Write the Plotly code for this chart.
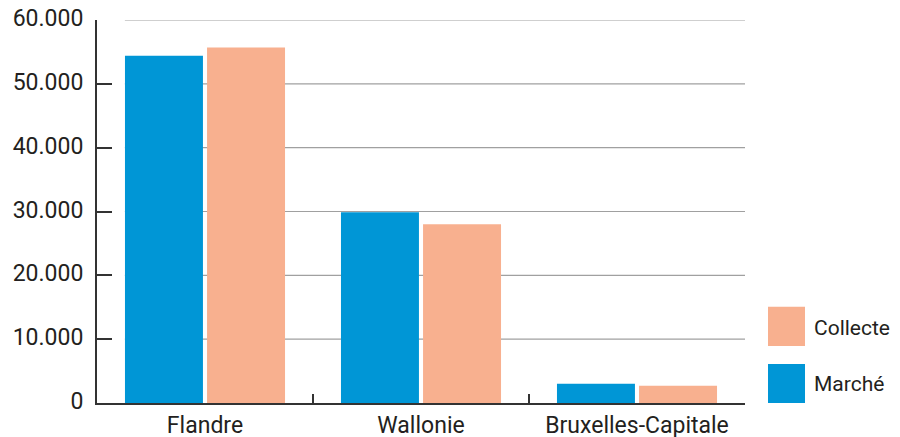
import plotly.graph_objects as go

regions = ["Flandre", "Wallonie", "Bruxelles-Capitale"]
marche = [54400, 29900, 3000]
collecte = [55700, 28000, 2700]
series_names = ["Marché", "Collecte"]
y_ticks = [0, 10000, 20000, 30000, 40000, 50000, 60000]
y_tick_labels = ["0", "10.000", "20.000", "30.000", "40.000", "50.000", "60.000"]

BLUE = "#0096D6"
SALMON = "#F8B08F"
FONT = "Roboto"
TXT = "#231f20"

fig = go.Figure()
fig.add_trace(go.Bar(x=regions, y=marche, name=series_names[0], marker_color=BLUE,
                     marker_line_width=0, showlegend=False))
fig.add_trace(go.Bar(x=regions, y=collecte, name=series_names[1], marker_color=SALMON,
                     marker_line_width=0, showlegend=False))

# gridlines (start a little right of the axis, as in the reference)
for v in y_ticks[1:]:
    fig.add_shape(type="line", xref="paper", yref="y", x0=0.043, x1=1, y0=v, y1=v,
                  line=dict(color="#a0a0a0", width=1.2), layer="below")

# custom legend with large swatches
legend_items = [(series_names[1], SALMON, 0.149, 0.251, 0.195),
                (series_names[0], BLUE, 0.0, 0.102, 0.05)]
for name, col, y0, y1, yt in legend_items:
    fig.add_shape(type="rect", xref="paper", yref="paper",
                  x0=1.0355, x1=1.0926, y0=y0, y1=y1,
                  fillcolor=col, line_width=0)
    fig.add_annotation(xref="paper", yref="paper", x=1.103, y=yt, text=name,
                       showarrow=False, xanchor="left", yanchor="middle",
                       font=dict(family=FONT, size=21, color=TXT))

fig.update_layout(
    width=900, height=445,
    margin=dict(l=97, r=155, t=20, b=42),
    paper_bgcolor="white", plot_bgcolor="white",
    barmode="group", bargap=0.24, bargroupgap=0.05,
    separators=",.",
    font=dict(family=FONT, size=23, color=TXT),
)
fig.update_yaxes(range=[0, 60000], tickvals=y_ticks, ticktext=y_tick_labels,
                 showgrid=False, zeroline=False, automargin=False,
                 showline=True, linecolor="#333333", linewidth=2,
                 ticks="inside", ticklen=15, tickwidth=2, tickcolor="#333333",
                 ticklabelstandoff=7, ticklabelshift=-2, ticklabeloverflow="allow",
                 tickfont=dict(family=FONT, size=23, color=TXT))
fig.update_xaxes(showgrid=False, zeroline=False, automargin=False,
                 showline=True, linecolor="#333333", linewidth=2,
                 ticks="inside", tickson="boundaries", ticklen=9, tickwidth=2, tickcolor="#333333",
                 ticklabelstandoff=0, ticklabeloverflow="allow",
                 tickfont=dict(family=FONT, size=23, color=TXT))

# remove the default 8px page margin so the figure starts at the window's corner
fig.write_html("out.html", config={"displayModeBar": False},
               post_script="document.body.style.margin='0px';")
